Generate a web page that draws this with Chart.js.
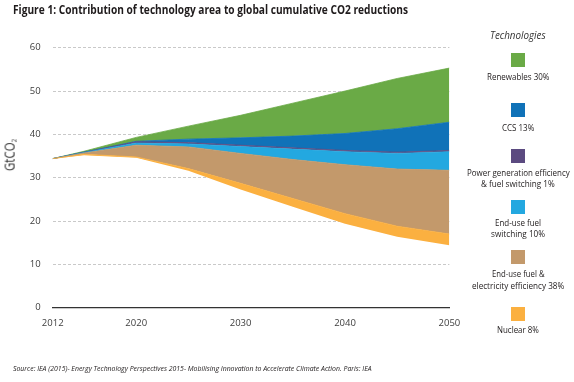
<!DOCTYPE html>
<html><head><meta charset="utf-8">
<script src="https://cdn.jsdelivr.net/npm/chart.js@4"></script>
<style>
html,body{margin:0;padding:0;background:#fff;}
#wrap{position:relative;width:574px;height:382px;overflow:hidden;font-family:"Open Sans","Noto Sans",sans-serif;color:#231f20;}
canvas{position:absolute;left:0;top:0;}
.t{position:absolute;white-space:nowrap;transform-origin:left top;}
.sq{position:absolute;width:14px;height:14px;}
</style></head><body>
<div id="wrap">
<canvas id="c" width="574" height="382"></canvas>
</div>
<script>
// ---- data ----
const years=[2012,2015,2020,2025,2030,2035,2040,2045,2050];
const remaining=[34.4,35.2,34.6,31.6,27.3,23.3,19.4,16.4,14.4];
const nuclear=[0,0.2,0.2,0.5,1.4,1.9,2.3,2.4,2.6];
const efficiency=[0,0.3,2.7,5.0,6.9,9.0,11.3,13.2,14.7];
const fuelSwitching=[0,0.1,0.5,0.7,1.6,2.4,3.0,3.6,4.3];
const powerGen=[0,0.05,0.3,0.3,0.3,0.3,0.3,0.3,0.3];
const ccs=[0,0.05,0.1,0.8,1.7,2.7,3.9,5.4,6.5];
const renewables=[0,0.2,0.9,3.0,5.2,7.6,9.8,11.6,12.5];
const xTicks=[2012,2020,2030,2040,2050];
const yTicks=[0,10,20,30,40,50,60];
const titleText="Figure 1: Contribution of technology area to global cumulative CO2 reductions";
const legendTitle="Technologies";
const legendLabels=[["Renewables 30%"],["CCS 13%"],["Power generation efficiency","& fuel switching 1%"],["End-use fuel","switching 10%"],["End-use fuel &","electricity efficiency 38%"],["Nuclear 8%"]];
const sourceText="Source: IEA (2015)- Energy Technology Perspectives 2015- Mobilising Innovation to Accelerate Climate Action. Paris: IEA";

// ---- styles ----
const colors={nuclear:'#fbb040',efficiency:'#c3996b',fuelSwitching:'#23a8e0',powerGen:'#5b4a80',ccs:'#1072b8',renewables:'#6aaa46'};
const legendColors=[colors.renewables,colors.ccs,colors.powerGen,colors.fuelSwitching,colors.efficiency,colors.nuclear];
const legendSquareTops=[53.3,103,149,200,250,307];
const legendBaselines=[[80.3],[131.7],[176.7,187.7],[226.7,237.7],[278,289.3],[334]];
const legendWidths=[[62],[32],[103,74],[46,54],[53,92],[42]];
const LCX=518;

const toXY=a=>years.map((x,i)=>({x:x,y:a[i]}));
const series=[
  [remaining,'rgba(0,0,0,0)'],
  [nuclear,colors.nuclear],
  [efficiency,colors.efficiency],
  [fuelSwitching,colors.fuelSwitching],
  [powerGen,colors.powerGen],
  [ccs,colors.ccs],
  [renewables,colors.renewables]
];
const datasets=series.map((s,i)=>({
  data:toXY(s[0]),
  backgroundColor:s[1],
  borderColor:s[1],
  borderWidth:i===0?0:0.8,
  fill:i===0?false:'-1',
  pointRadius:0,
  tension:0
}));

new Chart(document.getElementById('c'),{
  type:'line',
  data:{datasets:datasets},
  options:{
    responsive:false,animation:false,devicePixelRatio:1,
    layout:{padding:{left:0,right:124.6,top:47.7,bottom:0}},
    plugins:{legend:{display:false},tooltip:{enabled:false},title:{display:false}},
    scales:{
      x:{type:'linear',min:2012,max:2050,
        afterBuildTicks:s=>{s.ticks=xTicks.map(v=>({value:v}));},
        afterFit:s=>{s.height=74.3;},
        grid:{display:false,drawTicks:false},
        border:{display:true,color:'#333',width:1.3},
        ticks:{padding:10,color:'#3d3d3d',font:{family:'Open Sans',size:9.5},callback:v=>String(v),maxRotation:0,autoSkip:false}
      },
      y:{stacked:true,min:0,max:60,
        afterBuildTicks:s=>{s.ticks=yTicks.map(v=>({value:v}));},
        afterFit:s=>{s.width=52.7;},
        grid:{color:c=>(c.tick&&c.tick.value===0)?'rgba(0,0,0,0)':'#c9c9c9',lineWidth:1,drawTicks:false},
        border:{display:false,dash:[3,2]},
        ticks:{padding:12,color:'#3d3d3d',font:{family:'Open Sans',size:9.5}}
      }
    }
  }
});

// ---- HTML texts ----
const wrap=document.getElementById('wrap');
function addText(txt,fs,weight,style,baseline,target,opts){
  const d=document.createElement('div');
  d.className='t';
  d.textContent=txt;
  d.style.fontSize=fs+'px';
  d.style.lineHeight=fs+'px';
  d.style.fontWeight=weight;
  d.style.fontStyle=style;
  d.style.color=(opts&&opts.color)||'#1f1b1c';
  wrap.appendChild(d);
  const w=d.offsetWidth;
  const k=target/w;
  d.style.transform='scaleX('+k+')';
  d.style.top=(baseline-0.89*fs)+'px';
  if(opts&&opts.cx!==undefined){d.style.left=(opts.cx-target/2)+'px';}
  else d.style.left=opts.x+'px';
  return d;
}
addText(titleText,13,'700','normal',15,395,{x:13});
addText(legendTitle,10.5,'400','italic',39.3,56,{cx:LCX,color:'#333'});
legendLabels.forEach((lines,i)=>{
  const s=document.createElement('div');
  s.className='sq';
  s.style.left=(LCX-7)+'px';
  s.style.top=legendSquareTops[i]+'px';
  s.style.background=legendColors[i];
  wrap.appendChild(s);
  lines.forEach((ln,j)=>{
    addText(ln,8.5,'400','normal',legendBaselines[i][j],legendWidths[i][j],{cx:LCX});
  });
});
addText(sourceText,7.5,'400','italic',372,359,{x:13});

// y axis title
const yt=document.createElement('div');
yt.className='t';
yt.innerHTML='GtCO<span style="font-size:7.5px;vertical-align:-2px">2</span>';
yt.style.fontSize='14px';
yt.style.lineHeight='14px';
yt.style.color='#333';
wrap.appendChild(yt);
const yw=yt.offsetWidth;
yt.style.left=(11.5-yw/2)+'px';
yt.style.top=(153-7)+'px';
yt.style.transformOrigin='50% 50%';
yt.style.transform='rotate(-90deg) scaleX('+(32/yw)+')';
</script>
</body></html>
